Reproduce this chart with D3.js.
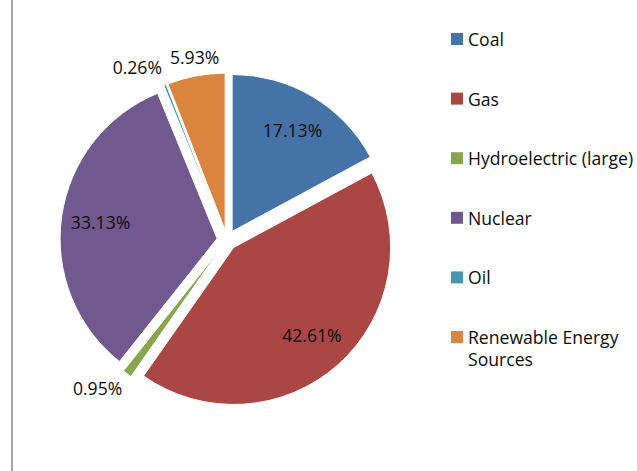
<!DOCTYPE html>
<meta charset="utf-8">
<script src="https://d3js.org/d3.v7.min.js"></script>
<style>
body { margin: 0; background: #fff; }
text { font-family: "Open Sans", sans-serif; fill: #0d0d0d; }
</style>
<div id="chart"></div>
<script>
// energy mix shares, clockwise from 12 o'clock
const sources = ["Coal", "Gas", "Hydroelectric (large)", "Nuclear", "Oil", "Renewable Energy Sources"];
const shares = [17.13, 42.61, 0.95, 33.13, 0.26, 5.93];
const labels = ["17.13%", "42.61%", "0.95%", "33.13%", "0.26%", "5.93%"];
const colors = ["#4572A7", "#AA4643", "#89A54E", "#71588F", "#4198AF", "#DB843D"];
// small slices get their label outside the pie
const outside = [false, false, true, false, true, true];

const W = 637, H = 471;
const cx = 227, cy = 240, r = 157, explode = 10;

const svg = d3.select("#chart").append("svg")
    .attr("width", W).attr("height", H);

// left border of the frame
svg.append("line")
    .attr("x1", 12).attr("x2", 12).attr("y1", 0).attr("y2", H)
    .attr("stroke", "#a6a6a6").attr("stroke-width", 2);

const data = sources.map((s, i) => ({name: s, value: shares[i], label: labels[i], color: colors[i], out: outside[i]}));

const pie = d3.pie().sort(null).value(d => d.value);
const arcs = pie(data);
const arc = d3.arc().innerRadius(0).outerRadius(r);

const g = svg.append("g").attr("transform", `translate(${cx},${cy})`);

const mid = d => (d.startAngle + d.endAngle) / 2;
const off = d => [Math.sin(mid(d)) * explode, -Math.cos(mid(d)) * explode];

g.selectAll("path.slice")
  .data(arcs)
  .join("path")
    .attr("class", "slice")
    .attr("d", arc)
    .attr("transform", d => `translate(${off(d)})`)
    .attr("fill", d => d.data.color)
    .attr("stroke", "#fff")
    .attr("stroke-width", 1);

const fs = 17.6;

// labels inside the slices
g.selectAll("text.inlab")
  .data(arcs.filter(d => !d.data.out))
  .join("text")
    .attr("class", "inlab")
    .attr("x", d => Math.sin(mid(d)) * (r * 0.75 + explode))
    .attr("y", d => -Math.cos(mid(d)) * (r * 0.75 + explode))
    .attr("text-anchor", "middle")
    .attr("dominant-baseline", "central")
    .style("font-size", fs + "px")
    .text(d => d.data.label);

// labels outside the pie, box corner nearest to the slice at the anchor
const outR = r + explode + 8;
g.selectAll("text.outlab")
  .data(arcs.filter(d => d.data.out))
  .join("text")
    .attr("class", "outlab")
    .attr("x", d => Math.sin(mid(d)) * outR)
    .attr("y", d => {
      const c = Math.cos(mid(d));
      return -c * outR + (c > 0 ? -4 : 15);
    })
    .attr("text-anchor", d => {
      const s = Math.sin(mid(d));
      return Math.abs(s) < 0.3 ? "middle" : (s < 0 ? "end" : "start");
    })
    .style("font-size", fs + "px")
    .text(d => d.data.label);

// legend
const ly = d3.scaleLinear().domain([0, sources.length - 1]).range([39, 337]);
const leg = svg.append("g").selectAll("g")
  .data(data)
  .join("g")
    .attr("transform", (d, i) => `translate(451,${ly(i)})`);

leg.append("rect")
    .attr("x", 0).attr("y", -6)
    .attr("width", 12).attr("height", 12)
    .attr("fill", d => d.color);

leg.append("text")
    .attr("x", 17).attr("y", 7)
    .style("font-size", fs + "px")
    .each(function(d) {
      const t = d3.select(this);
      if (d.name === "Renewable Energy Sources") {
        t.append("tspan").attr("x", 17).text("Renewable Energy");
        t.append("tspan").attr("x", 17).attr("dy", 22).text("Sources");
      } else {
        t.text(d.name);
      }
    });
</script>
